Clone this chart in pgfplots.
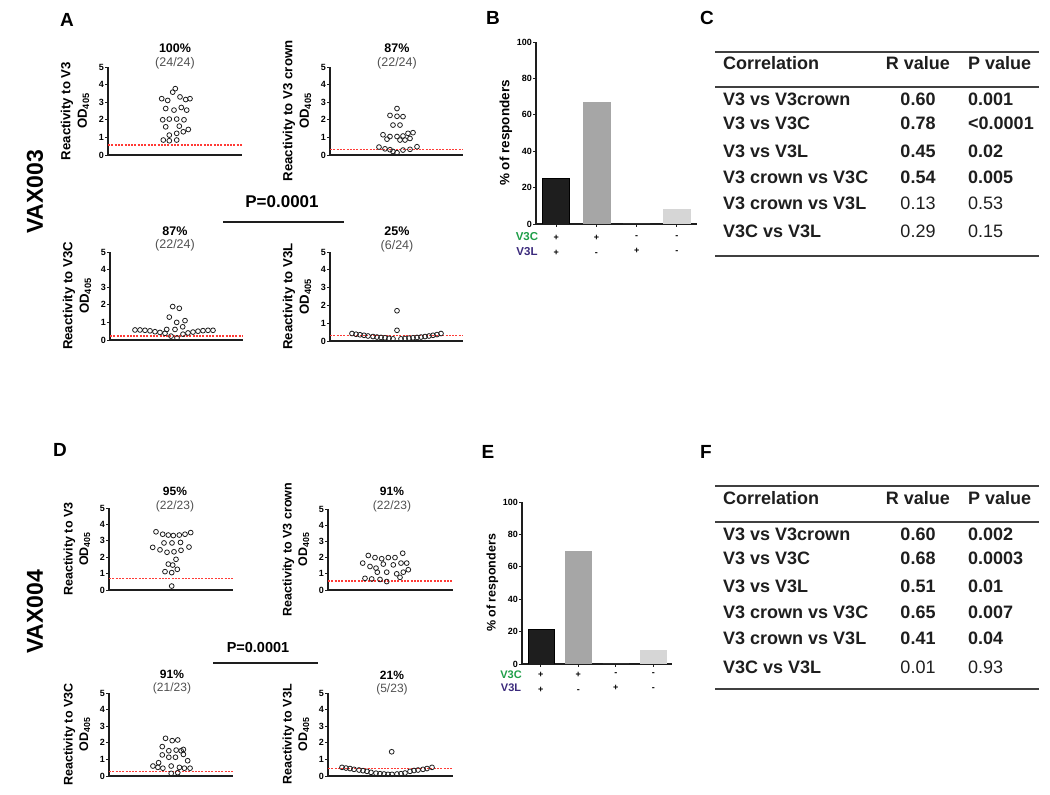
\documentclass[border=0pt]{standalone}
\usepackage{pgfplots}
\pgfplotsset{compat=1.18}
\usepackage{fontspec}
\setmainfont{Liberation Sans}

\definecolor{cutred}{HTML}{FF3B36}
\definecolor{grnC}{HTML}{1E9E48}
\definecolor{purL}{HTML}{3B2A7C}
\definecolor{midgray}{HTML}{A6A6A6}
\definecolor{lightbar}{HTML}{D6D6D6}
\definecolor{fracgray}{HTML}{505050}
\definecolor{ink}{HTML}{1E1E1E}

\newcommand\fs[2]{\fontsize{#1}{#2}\selectfont}

\tikzset{tab/.style={inner sep=0pt, text=ink}}

\pgfplotsset{
  scat/.style={
    anchor=south west, scale only axis, clip=false,
    ymin=0, ymax=5,
    axis x line=bottom, axis y line=left,
    axis line style={-, ink},
    x axis line style={line width=1.8pt},
    y axis line style={line width=1.3pt},
    xtick=\empty, ytick={0,1,2,3,4,5},
    tick align=outside, major tick length=3pt,
    tick style={ink, line width=0.8pt},
    yticklabel style={font=\bfseries\fs{9}{9}, inner sep=1pt},
    ylabel style={font=\bfseries\fs{13.2}{16.5}, align=center},
    ylabel shift=5pt,
    /pgf/number format/assume math mode=true,
  },
  pts/.style={only marks, mark=o, mark size=2.4pt, mark options={ink, line width=0.8pt}},
  cut/.style={color=cutred, line width=1.6pt, dash pattern=on 2pt off 1.3pt},
  bars/.style={
    anchor=south west, scale only axis,
    xmin=0.5, xmax=4.5, ymin=0, ymax=100,
    axis x line=bottom, axis y line=left,
    axis line style={-, ink, line width=1.3pt},
    ytick={0,20,40,60,80,100}, xtick={1,2,3,4},
    xticklabels={{+\\+},{+\\-},{-\\+},{-\\-}},
    xticklabel style={align=center, font=\bfseries\fs{9}{15}, inner sep=1pt, yshift=-7pt},
    yticklabel style={font=\bfseries\fs{9}{9}, inner sep=1pt},
    tick align=outside, major tick length=3pt, tick style={ink, line width=0.8pt},
    ylabel={\% of responders}, ylabel style={font=\bfseries\fs{13.5}{14}},
    ylabel shift=0pt,
    ybar, bar shift=0pt,
    /pgf/number format/assume math mode=true,
  },
}

\begin{document}
\begin{tikzpicture}[x=1pt,y=1pt]
\path[use as bounding box] (0,0) rectangle (1050,795);

% ---------------- VAX003 ----------------
\node[rotate=90, font=\bfseries\fs{23}{23}] at (35,{795-192}) {VAX003};
\node[font=\bfseries\fs{19}{19}] at (67,{795-20}) {A};
\node[font=\bfseries\fs{19}{19}] at (493,{795-18}) {B};
\node[font=\bfseries\fs{19}{19}] at (707,{795-18}) {C};

% A: V3
\begin{axis}[scat, at={(108pt,640pt)}, width=134pt, height=88pt, xmin=108, xmax=242,
  ylabel={Reactivity to V3\\OD\textsubscript{405}}]
\addplot[cut] coordinates {(108,0.57) (242,0.57)};
\addplot[pts] coordinates {
(175.3,3.77) (172.7,3.57)
(161.7,3.2) (167.7,3.1) (180,3.3) (185.7,3.15) (190,3.2)
(165.7,2.64) (174,2.55) (181.3,2.7) (186.7,2.55)
(162.7,2.0) (169.3,2.04) (176.7,2.04) (184,2.0)
(165.7,1.6) (179.3,1.64) (188.3,1.45)
(169.3,1.13) (176.7,1.23) (183.3,1.32)
(163.3,0.85) (169.3,0.81) (176.7,0.85)};
\end{axis}
\node[font=\bfseries\fs{12.5}{12.5}] at (175,{795-48}) {100\%};
\node[font=\fs{12.5}{12.5}, text=fracgray] at (175,{795-63}) {(24/24)};

% A: V3 crown
\begin{axis}[scat, at={(330pt,640pt)}, width=133pt, height=88pt, xmin=330, xmax=463,
  ylabel={Reactivity to V3 crown\\OD\textsubscript{405}}]
\addplot[cut] coordinates {(330,0.32) (463,0.32)};
\addplot[pts] coordinates {
(397,2.64)
(390,2.25) (397,2.2) (403,2.18)
(393,1.7) (400,1.7)
(383,1.15) (390,1.05) (397,1.05) (403,1.08) (408,1.23) (413,1.27)
(387,0.9) (400,0.85) (405,0.85) (410,0.94)
(379,0.45) (385,0.35) (390,0.3) (393,0.2) (397,0.13) (403,0.28) (410,0.32) (417,0.47)};
\end{axis}
\node[font=\bfseries\fs{12.5}{12.5}] at (397,{795-48}) {87\%};
\node[font=\fs{12.5}{12.5}, text=fracgray] at (397,{795-63}) {(22/24)};

% A: V3C
\begin{axis}[scat, at={(110pt,455pt)}, width=133pt, height=88pt, xmin=110, xmax=243,
  ylabel={Reactivity to V3C\\OD\textsubscript{405}}]
\addplot[cut] coordinates {(110,0.23) (243,0.23)};
\addplot[pts] coordinates {
(135,0.57) (140,0.57) (145,0.55) (150,0.52) (155,0.47) (160,0.43) (165,0.38)
(171,0.22) (177,0.12)
(183,0.33) (188,0.4) (193,0.45) (198,0.5) (203,0.53) (208,0.55) (213,0.55)
(172.7,1.9) (179.3,1.8) (169.3,1.3) (176.7,1.0) (185,1.1) (182.7,0.75) (166.7,0.6) (175,0.6)};
\end{axis}
\node[font=\bfseries\fs{12.5}{12.5}] at (175,{795-231}) {87\%};
\node[font=\fs{12.5}{12.5}, text=fracgray] at (175,{795-245}) {(22/24)};

% A: V3L
\begin{axis}[scat, at={(330pt,454pt)}, width=133pt, height=89pt, xmin=330, xmax=463,
  ylabel={Reactivity to V3L\\OD\textsubscript{405}}]
\addplot[cut] coordinates {(330,0.3) (463,0.3)};
\addplot[pts] coordinates {
(352,0.42) (356,0.38) (360,0.35) (364,0.32) (368,0.28) (373,0.25) (377,0.22) (381,0.2) (385,0.18) (389,0.15) (393,0.12)
(401,0.12) (405,0.14) (409,0.16) (413,0.18) (417,0.2) (421,0.22) (425,0.25) (429,0.28) (433,0.32) (437,0.36) (441,0.42)
(397,1.7) (397,0.6)};
\end{axis}
\node[font=\bfseries\fs{12.5}{12.5}] at (397,{795-231}) {25\%};
\node[font=\fs{12.5}{12.5}, text=fracgray] at (397,{795-246}) {(6/24)};

\node[font=\bfseries\fs{17}{17}] at (282,{795-202}) {P=0.0001};
\draw[line width=1.8pt, ink] (223,{795-222}) -- (344,{795-222});

% B
\begin{axis}[bars, at={(536pt,571pt)}, width=161pt, height=182pt, bar width=27pt]
\addplot[fill=ink, draw=black] coordinates {(1,25)};
\addplot[fill=midgray, draw=midgray] coordinates {(2,66.7)};
\addplot[fill=midgray, draw=midgray] coordinates {(3,0)};
\addplot[fill=lightbar, draw=lightbar] coordinates {(4,8.3)};
\end{axis}
\node[font=\bfseries\fs{11.5}{11.5}, text=grnC] at (527,{795-237}) {V3C};
\node[font=\bfseries\fs{11.5}{11.5}, text=purL] at (527,{795-252}) {V3L};

% C table
\draw[line width=1.5pt, ink!85] (715,{795-52}) -- (1039,{795-52});
\draw[line width=1.5pt, ink!85] (715,{795-87}) -- (1039,{795-87});
\draw[line width=1.5pt, ink!85] (715,{795-256}) -- (1039,{795-256});
\node[tab, anchor=base west, font=\bfseries\fs{18}{18}] at (723,{795-69.5}) {Correlation};
\node[tab, anchor=base, font=\bfseries\fs{18}{18}] at (918,{795-69.5}) {R value};
\node[tab, anchor=base west, font=\bfseries\fs{18}{18}] at (968,{795-69.5}) {P value};
\foreach \yy/\nm/\rv/\pv/\wt in {
  99/V3 vs V3crown/0.60/0.001/\bfseries,
  123.3/V3 vs V3C/0.78/<0.0001/\bfseries,
  150.7/V3 vs V3L/0.45/0.02/\bfseries,
  176.7/V3 crown vs V3C/0.54/0.005/\bfseries,
  203.3/V3 crown vs V3L/0.13/0.53/\mdseries,
  230.7/V3C vs V3L/0.29/0.15/\mdseries}{
  \node[tab, anchor=base west, font=\bfseries\fs{18}{18}] at (723,{795-\yy-6.5}) {\nm};
  \node[tab, anchor=base, font=\wt\fs{18}{18}] at (918,{795-\yy-6.5}) {\rv};
  \node[tab, anchor=base west, font=\wt\fs{18}{18}] at (968,{795-\yy-6.5}) {\pv};
}

% ---------------- VAX004 ----------------
\node[rotate=90, font=\bfseries\fs{23}{23}] at (35,{795-612}) {VAX004};
\node[font=\bfseries\fs{19}{19}] at (60,{795-450}) {D};
\node[font=\bfseries\fs{19}{19}] at (488,{795-452}) {E};
\node[font=\bfseries\fs{19}{19}] at (706,{795-452}) {F};

% D: V3
\begin{axis}[scat, at={(109pt,205pt)}, width=124pt, height=82pt, xmin=109, xmax=233,
  ylabel={Reactivity to V3\\OD\textsubscript{405}}, ylabel style={font=\bfseries\fs{12.5}{15.5}}]
\addplot[cut] coordinates {(109,0.71) (233,0.71)};
\addplot[pts] coordinates {
(156,3.55) (162.7,3.4) (168.3,3.35) (173.3,3.32) (179.3,3.35) (185,3.4) (190.7,3.5)
(164,2.87) (172,2.87) (180.5,2.9)
(152.7,2.6) (160,2.45) (167,2.3) (174,2.33) (181,2.42) (189,2.62)
(176,1.87) (168.3,1.58) (172.7,1.52) (177.3,1.26)
(165,1.12) (171.7,1.06)
(171.7,0.24)};
\end{axis}
\node[font=\bfseries\fs{12}{12}] at (175,{795-491}) {95\%};
\node[font=\fs{12}{12}, text=fracgray] at (175,{795-506}) {(22/23)};

% D: V3 crown
\begin{axis}[scat, at={(328pt,205pt)}, width=125pt, height=81pt, xmin=328, xmax=453,
  ylabel={Reactivity to V3 crown\\OD\textsubscript{405}}, ylabel style={font=\bfseries\fs{12.5}{15.5}}]
\addplot[cut] coordinates {(328,0.55) (453,0.55)};
\addplot[pts] coordinates {
(368.3,2.13) (375,2.0) (381.7,1.93) (388.3,2.0) (395,2.0) (402.7,2.27)
(362.7,1.66) (370,1.45) (376,1.35) (383.3,1.6) (393.3,1.55) (401,1.66) (406.7,1.66)
(377.3,1.1) (386.7,1.1) (396.7,1.0) (403.3,1.1) (408.3,1.25)
(365,0.72) (371.7,0.68) (380,0.65) (386.7,0.52) (400,0.78)};
\end{axis}
\node[font=\bfseries\fs{12}{12}] at (392,{795-491}) {91\%};
\node[font=\fs{12}{12}, text=fracgray] at (392,{795-506}) {(22/23)};

% D: V3C
\begin{axis}[scat, at={(109pt,19pt)}, width=124pt, height=83pt, xmin=109, xmax=234,
  ylabel={Reactivity to V3C\\OD\textsubscript{405}}, ylabel style={font=\bfseries\fs{12.5}{15.5}}]
\addplot[cut] coordinates {(109,0.26) (234,0.26)};
\addplot[pts] coordinates {
(166,2.27) (172.7,2.13) (178.3,2.17)
(162.7,1.77) (169.3,1.52) (176.7,1.56) (181.7,1.52) (184,1.6)
(162.7,1.27) (169.3,1.13) (176,1.13) (184,1.3) (188.3,0.92)
(159,0.8)
(153.3,0.6) (158.3,0.52) (163.3,0.47) (171.7,0.6) (180,0.52) (185,0.47) (190.7,0.47)
(171.7,0.16) (178.3,0.2)};
\end{axis}
\node[font=\bfseries\fs{12}{12}] at (172,{795-674}) {91\%};
\node[font=\fs{12}{12}, text=fracgray] at (172,{795-688}) {(21/23)};

% D: V3L
\begin{axis}[scat, at={(328pt,19pt)}, width=125pt, height=83pt, xmin=328, xmax=453,
  ylabel={Reactivity to V3L\\OD\textsubscript{405}}, ylabel style={font=\bfseries\fs{12.5}{15.5}}]
\addplot[cut] coordinates {(328,0.46) (453,0.46)};
\addplot[pts] coordinates {
(342,0.52) (346,0.48) (350,0.45) (354,0.4) (359,0.36) (363,0.32) (367,0.28) (371,0.22) (376,0.17) (380,0.14) (384,0.12)
(388,0.1) (392,0.1) (397,0.12) (401,0.14) (405,0.18) (410,0.28) (414,0.33) (418,0.36) (423,0.4) (427,0.45) (432,0.52)
(391.7,1.46)};
\end{axis}
\node[font=\bfseries\fs{12}{12}] at (392,{795-675}) {21\%};
\node[font=\fs{12}{12}, text=fracgray] at (392,{795-689}) {(5/23)};

\node[font=\bfseries\fs{14.5}{14.5}] at (258,{795-648}) {P=0.0001};
\draw[line width=1.8pt, ink] (213,{795-663}) -- (318,{795-663});

% E
\begin{axis}[bars, at={(522pt,131pt)}, width=150pt, height=162pt, bar width=26pt,
  ylabel style={font=\bfseries\fs{12.5}{13}},
  xticklabel style={yshift=3pt}]
\addplot[fill=ink, draw=black] coordinates {(1,21.7)};
\addplot[fill=midgray, draw=midgray] coordinates {(2,69.6)};
\addplot[fill=midgray, draw=midgray] coordinates {(3,0)};
\addplot[fill=lightbar, draw=lightbar] coordinates {(4,8.7)};
\end{axis}
\node[font=\bfseries\fs{11}{11}, text=grnC] at (511,{795-675}) {V3C};
\node[font=\bfseries\fs{11}{11}, text=purL] at (511,{795-688}) {V3L};

% F table
\draw[line width=1.5pt, ink!85] (715,{795-486}) -- (1039,{795-486});
\draw[line width=1.5pt, ink!85] (715,{795-522}) -- (1039,{795-522});
\draw[line width=2pt, ink!85] (715,{795-689}) -- (1039,{795-689});
\node[tab, anchor=base west, font=\bfseries\fs{18}{18}] at (723,{795-504.5}) {Correlation};
\node[tab, anchor=base, font=\bfseries\fs{18}{18}] at (918,{795-504.5}) {R value};
\node[tab, anchor=base west, font=\bfseries\fs{18}{18}] at (968,{795-504.5}) {P value};
\foreach \yy/\nm/\rv/\pv/\wt in {
  534/V3 vs V3crown/0.60/0.002/\bfseries,
  557.7/V3 vs V3C/0.68/0.0003/\bfseries,
  585.7/V3 vs V3L/0.51/0.01/\bfseries,
  612.3/V3 crown vs V3C/0.65/0.007/\bfseries,
  638.3/V3 crown vs V3L/0.41/0.04/\bfseries,
  666.7/V3C vs V3L/0.01/0.93/\mdseries}{
  \node[tab, anchor=base west, font=\bfseries\fs{18}{18}] at (723,{795-\yy-6.5}) {\nm};
  \node[tab, anchor=base, font=\wt\fs{18}{18}] at (918,{795-\yy-6.5}) {\rv};
  \node[tab, anchor=base west, font=\wt\fs{18}{18}] at (968,{795-\yy-6.5}) {\pv};
}
\end{tikzpicture}
\end{document}
